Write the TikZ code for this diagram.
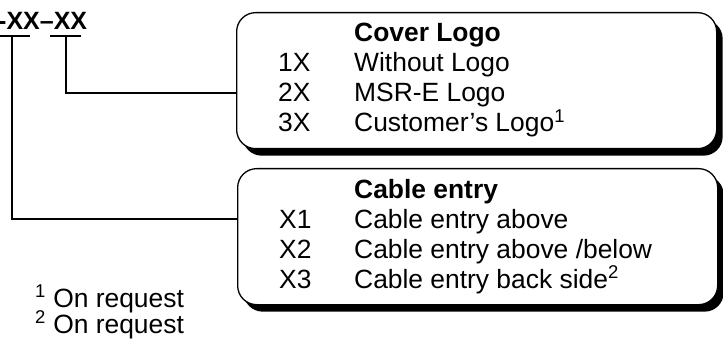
\documentclass[tikz,border=0pt]{standalone}
\usepackage{fontspec}
\setmainfont{Liberation Sans}
\usepackage{tikz}
\usetikzlibrary{shadows}
\tikzset{>=latex}
\tikzset{
	infobox/.style={draw, line width=1.3pt, rounded corners=19pt, fill=white,
		anchor=north west, inner sep=0pt, minimum width=480pt, minimum height=136pt,
		general shadow={fill=black, shadow xshift=6pt, shadow yshift=-7pt}},
	entry/.style={anchor=base west, inner sep=0pt, font=\fontsize{26.4}{30}\selectfont},
	head/.style={entry, font=\fontsize{26.4}{30}\selectfont\bfseries}
}

\begin{document}
\begin{tikzpicture}[x=1pt,y=-1pt]
            \useasboundingbox (0,0) rectangle (723,342);
            % type code
            \node[entry, font=\fontsize{25}{28}\selectfont\bfseries] (code) at (-2,30) {-XX–XX};
            \draw[line width=1.5pt] (0,36) -- (30,36);
            \draw[line width=1.5pt] (50,36) -- (81,36);
            \coordinate (capA) at (12,36);
            \coordinate (capB) at (66,36);
            % boxes
            \node[infobox] (logo) at (236,12) {};
            \node[infobox] (cable) at (237,168) {};
            \node[head] (logohead) at (354,42) {Cover Logo};
            \node[entry] (one) at (278,72) {1X};
            \node[entry] (onetext) at (354,72) {Without Logo};
            \node[entry] (two) at (278,102) {2X};
            \node[entry] (twotext) at (354,102) {MSR-E Logo};
            \node[entry] (three) at (278,132) {3X};
            \node[entry] (threetext) at (354,132) {Customer’s Logo\textsuperscript{1}};
            \node[head] (cablehead) at (354,198) {Cable entry};
            \node[entry] (xone) at (279,228) {X1};
            \node[entry] (xonetext) at (354,228) {Cable entry above};
            \node[entry] (xtwo) at (279,258) {X2};
            \node[entry] (xtwotext) at (354,258) {Cable entry above /below};
            \node[entry] (xthree) at (279,288) {X3};
            \node[entry] (xthreetext) at (354,288) {Cable entry back side\textsuperscript{2}};
            % connectors
            \draw[line width=1.5pt] (capB) |- (logo.west |- two.center);
            \draw[line width=1.5pt] (capA) |- (cable.west |- xone.center);
            % notes
            \node[entry] (noteone) at (35,307) {\textsuperscript{1} On request};
            \node[entry] (notetwo) at (35,333) {\textsuperscript{2} On request};
        \end{tikzpicture}
\end{document}
